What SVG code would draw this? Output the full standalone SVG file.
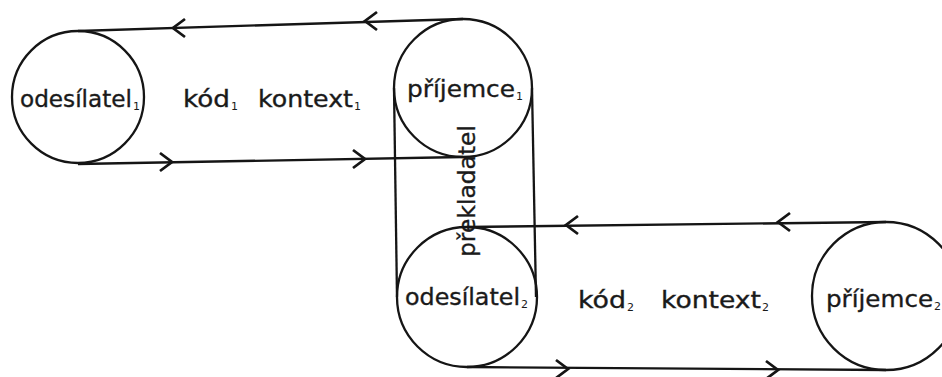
<svg xmlns="http://www.w3.org/2000/svg" xmlns:xlink="http://www.w3.org/1999/xlink" width="942" height="377" viewBox="0 0 942 377">
<style>
.node{fill:none;stroke:#151515;stroke-width:2.3}
.edge{fill:none;stroke:#151515;stroke-width:2.3}
.chev{fill:none;stroke:#151515;stroke-width:2.8;stroke-linejoin:miter}
.lbl{font-family:"DejaVu Sans","Liberation Sans",sans-serif;font-size:23px;fill:#1a1a1a;stroke:#1a1a1a;stroke-width:0.35}
.sub{font-family:"DejaVu Sans","Liberation Sans",sans-serif;font-size:11px;fill:#1a1a1a}
</style>
<defs>
<path id="chevL" class="chev" d="M12,-9 L0,0 L12,9"/>
<path id="chevR" class="chev" d="M-12,-9 L0,0 L-12,9"/>
</defs>
<rect width="942" height="377" fill="#ffffff"/>
<g id="connectors">
<line class="edge" x1="78" y1="31" x2="463" y2="19"/>
<line class="edge" x1="78" y1="164" x2="463" y2="157"/>
<line class="edge" x1="467" y1="227" x2="886" y2="222"/>
<line class="edge" x1="467" y1="367" x2="886" y2="370"/>
<use xlink:href="#chevL" x="173" y="28"/>
<use xlink:href="#chevL" x="365" y="21"/>
<use xlink:href="#chevR" x="172" y="162"/>
<use xlink:href="#chevR" x="365" y="159"/>
<use xlink:href="#chevL" x="566" y="225"/>
<use xlink:href="#chevL" x="778" y="222"/>
<use xlink:href="#chevR" x="568" y="369"/>
<use xlink:href="#chevR" x="778" y="370"/>
</g>
<g id="odesilatel1">
<circle class="node" cx="78" cy="97" r="66"/>
<text class="lbl" x="20" y="107" textLength="112" lengthAdjust="spacingAndGlyphs">odesílatel</text>
<text class="sub" x="133" y="110">1</text>
</g>
<g id="kod1">
<text class="lbl" x="183" y="107" textLength="47" lengthAdjust="spacingAndGlyphs">kód</text>
<text class="sub" x="231" y="110">1</text>
</g>
<g id="kontext1">
<text class="lbl" x="258" y="107" textLength="95" lengthAdjust="spacingAndGlyphs">kontext</text>
<text class="sub" x="354" y="110">1</text>
</g>
<g id="prekladatel">
<line class="node" x1="394" y1="88" x2="397" y2="297"/>
<line class="node" x1="532" y1="88" x2="536" y2="297"/>
<text class="lbl" x="475" y="257" transform="rotate(-90 475 257)" textLength="132" lengthAdjust="spacingAndGlyphs">překladatel</text>
</g>
<g id="prijemce1">
<circle class="node" cx="463" cy="88" r="69"/>
<text class="lbl" x="407" y="97" textLength="108" lengthAdjust="spacingAndGlyphs">příjemce</text>
<text class="sub" x="516" y="100">1</text>
</g>
<g id="odesilatel2">
<circle class="node" cx="467" cy="297" r="70"/>
<text class="lbl" x="405" y="305" textLength="115" lengthAdjust="spacingAndGlyphs">odesílatel</text>
<text class="sub" x="521" y="308">2</text>
</g>
<g id="kod2">
<text class="lbl" x="578" y="308" textLength="48" lengthAdjust="spacingAndGlyphs">kód</text>
<text class="sub" x="627" y="311">2</text>
</g>
<g id="kontext2">
<text class="lbl" x="661" y="308" textLength="100" lengthAdjust="spacingAndGlyphs">kontext</text>
<text class="sub" x="762" y="311">2</text>
</g>
<g id="prijemce2">
<circle class="node" cx="886" cy="296" r="74"/>
<text class="lbl" x="826" y="307" textLength="107" lengthAdjust="spacingAndGlyphs">příjemce</text>
<text class="sub" x="934" y="310">2</text>
</g>
</svg>
